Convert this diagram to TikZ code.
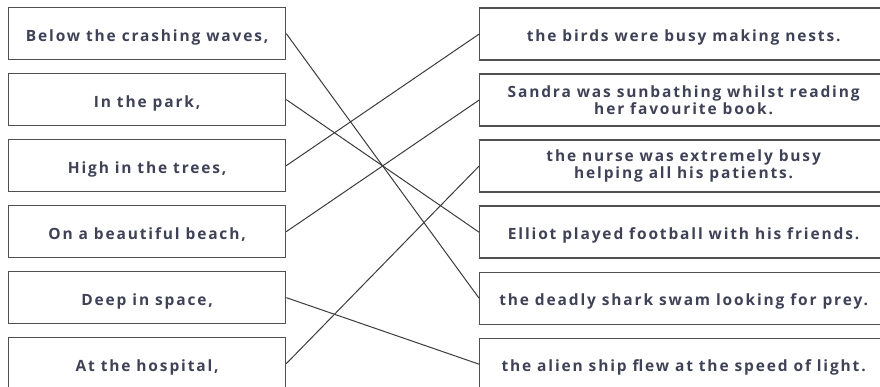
\documentclass[tikz,border=0pt]{standalone}
\usepackage{fontspec}
\setmainfont{Open Sans}[LetterSpace=12]
\usetikzlibrary{positioning}
\definecolor{inkblue}{HTML}{3F4256}
\definecolor{boxgray}{HTML}{505050}
\definecolor{linegray}{HTML}{3C3C3C}
\tikzset{start/.style={draw=boxgray, line width=1.3pt, minimum height=52pt, align=center,
		text=inkblue, font=\fontsize{15.5pt}{17pt}\selectfont\bfseries, inner sep=0pt}}
\tikzset{finish/.style={start}}
\tikzset{oneline/.style={text height=15pt, text depth=0pt}}

\begin{document}
\begin{tikzpicture}[node distance=12.7pt]
	\path [use as bounding box, clip] (0pt,0pt) rectangle (880pt,-387pt);
	\fill [white] (0pt,0pt) rectangle (880pt,-387pt);
	\node (BELOW) [start, oneline, minimum width=277pt, anchor=north west] at (8pt,-7pt) {Below the crashing waves,};
	\node (PARK) [start, oneline, minimum width=277pt, below=of BELOW] {In the park,};
	\node (TREES) [start, oneline, minimum width=277pt, below=of PARK] {High in the trees,};
	\node (BEACH) [start, oneline, minimum width=277pt, below=of TREES] {On a beautiful beach,};
	\node (SPACE) [start, oneline, minimum width=277pt, below=of BEACH] {Deep in space,};
	\node (HOSP) [start, oneline, minimum width=277pt, below=of SPACE] {At the hospital,};
	
	\node (BIRDS) [finish, oneline, minimum width=408pt, anchor=north west] at (479pt,-7.5pt) {the birds were busy making nests.};
	\node (SANDRA) [finish, minimum width=408pt, below=of BIRDS] {Sandra was sunbathing whilst reading\\ her favourite book.};
	\node (NURSE) [finish, minimum width=408pt, below=of SANDRA] {the nurse was extremely busy\\ helping all his patients.};
	\node (ELLIOT) [finish, oneline, minimum width=408pt, below=of NURSE] {Elliot played football with his friends.};
	\node (SHARK) [finish, oneline, minimum width=408pt, below=of ELLIOT] {the deadly shark swam looking for prey.};
	\node (ALIEN) [finish, oneline, minimum width=408pt, below=of SHARK] {the alien ship flew at the speed of light.};
	
	\path [draw=linegray, line width=1pt] (BELOW.east) -- (SHARK.west);
	\path [draw=linegray, line width=1pt] (PARK.east) -- (ELLIOT.west);
	\path [draw=linegray, line width=1pt] (TREES.east) -- (BIRDS.west);
	\path [draw=linegray, line width=1pt] (BEACH.east) -- (SANDRA.west);
	\path [draw=linegray, line width=1pt] (SPACE.east) -- (ALIEN.west);
	\path [draw=linegray, line width=1pt] (HOSP.east) -- (NURSE.west);
\end{tikzpicture}
\end{document}
